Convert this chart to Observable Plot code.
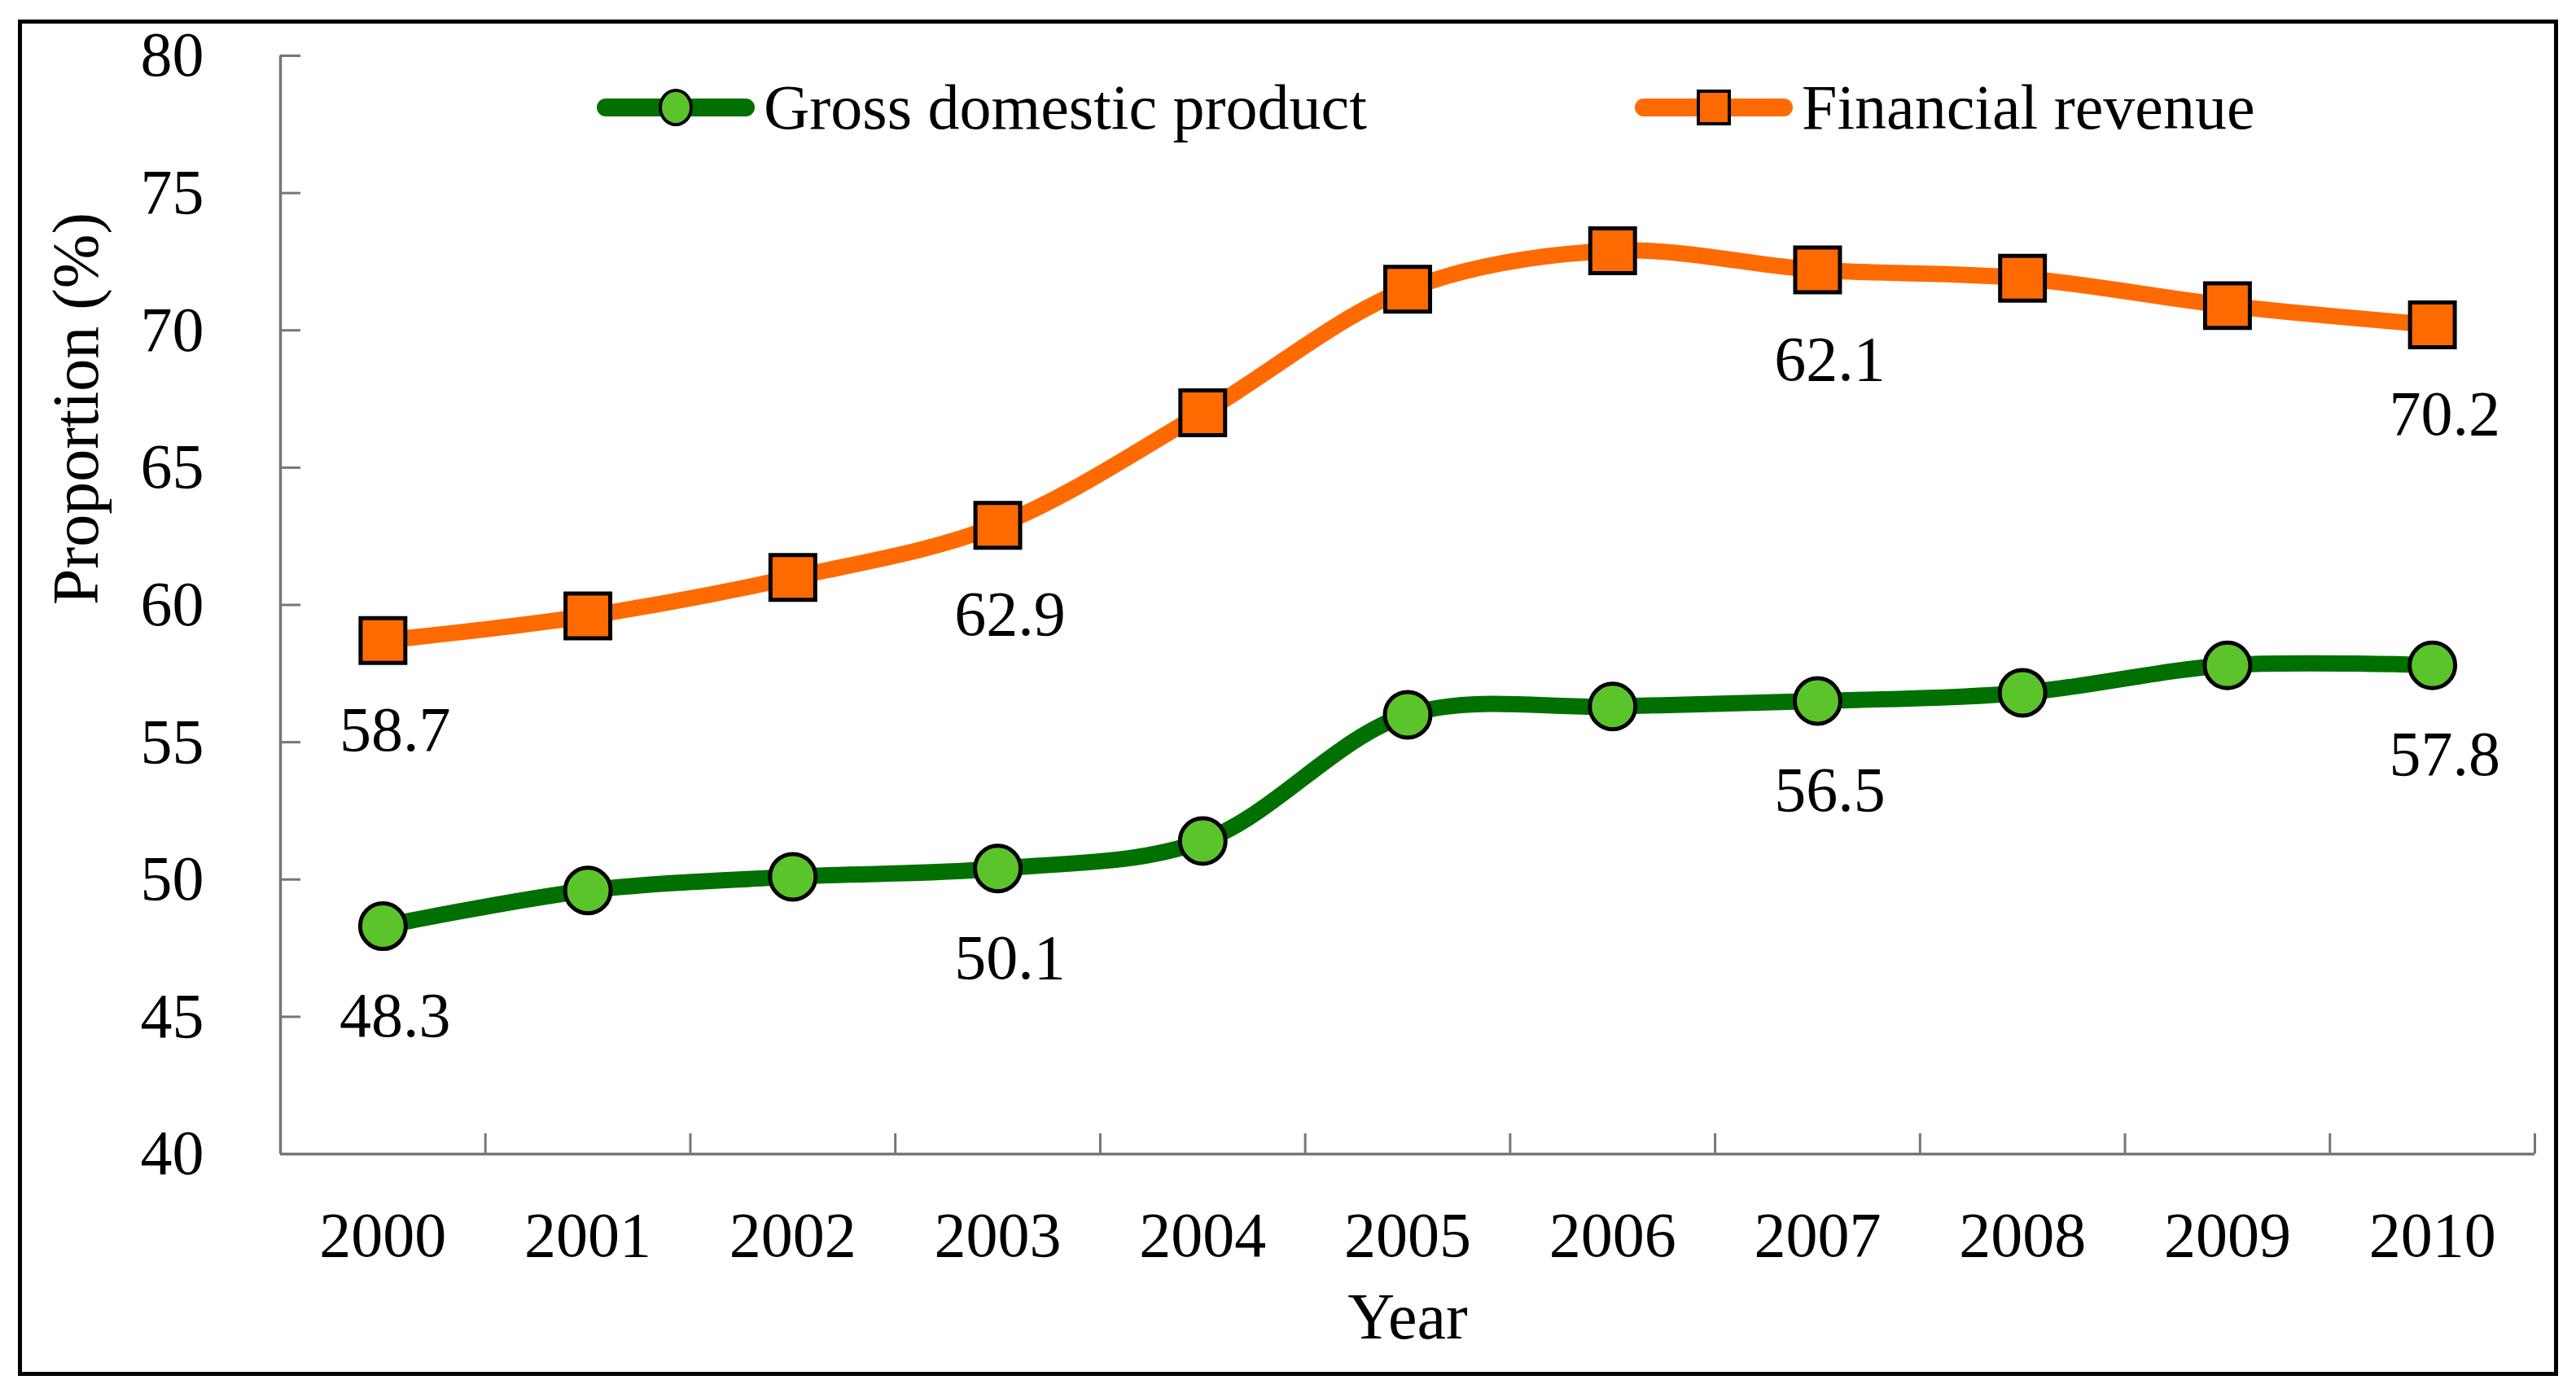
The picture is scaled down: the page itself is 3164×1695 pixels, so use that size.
<!DOCTYPE html>
<html>
<head>
<meta charset="utf-8">
<script src="https://cdn.jsdelivr.net/npm/d3@7"></script>
<script src="https://cdn.jsdelivr.net/npm/@observablehq/plot@0.6"></script>
<style>
  html, body { margin: 0; padding: 0; background: #fff; }
  #wrap { position: relative; width: 3164px; height: 1695px; font-family: "Liberation Serif", "Times New Roman", serif; }
  #frame { position: absolute; left: 22px; top: 24px; width: 3120px; height: 1666px; border: 5px solid #000; box-sizing: border-box; pointer-events: none; }
  #chart { position: absolute; left: 0; top: 0; }
  .leg { position: absolute; display: flex; align-items: center; height: 80px; font-size: 78px; color: #000; white-space: nowrap; }
  .leg svg { display: block; }
  .leg span { margin-left: 10px; line-height: 1; }
</style>
</head>
<body>
<div id="wrap">
  <div id="chart"></div>
  <div id="legend"></div>
  <div id="frame"></div>
</div>
<script>
// ---- data ----
const years = [2000, 2001, 2002, 2003, 2004, 2005, 2006, 2007, 2008, 2009, 2010];
const gdp = [48.3, 49.6, 50.1, 50.4, 51.4, 56.0, 56.3, 56.5, 56.8, 57.8, 57.8];
const revenue = [58.7, 59.6, 61.0, 62.9, 67.0, 71.5, 72.9, 72.2, 71.9, 70.9, 70.2];
const gdpLabelYears = [2000, 2003, 2007, 2010];
const gdpLabelTexts = ["48.3", "50.1", "56.5", "57.8"];
const revLabelYears = [2000, 2003, 2007, 2010];
const revLabelTexts = ["58.7", "62.9", "62.1", "70.2"];
const yTicks = [40, 45, 50, 55, 60, 65, 70, 75, 80];
const seriesNames = ["Gross domestic product", "Financial revenue"];

// ---- styles ----
const greenLine = "#007000", greenFill = "#5CC42B";
const orange = "#FF6A00";
const axisGray = "#767676";

const gdpData = years.map((y, i) => ({year: y, value: gdp[i]}));
const revData = years.map((y, i) => ({year: y, value: revenue[i]}));
const gdpLabels = gdpLabelYears.map((y, i) => ({year: y, value: gdp[years.indexOf(y)], text: gdpLabelTexts[i]}));
const revLabels = revLabelYears.map((y, i) => ({year: y, value: revenue[years.indexOf(y)], text: revLabelTexts[i]}));
const bounds = years.map(y => y - 0.5).concat([years[years.length - 1] + 0.5]);

const plot = Plot.plot({
  width: 3164,
  height: 1695,
  marginLeft: 344,
  marginRight: 51,
  marginTop: 68,
  marginBottom: 278,
  style: {fontFamily: "Liberation Serif, Times New Roman, serif", fontSize: "78px", background: "transparent", color: "#000", overflow: "visible"},
  x: {type: "linear", domain: [bounds[0], bounds[bounds.length - 1]]},
  y: {domain: [40, 80]},
  marks: [
    Plot.ruleY([40], {stroke: axisGray, strokeWidth: 3.5}),
    Plot.ruleX([bounds[0]], {stroke: axisGray, strokeWidth: 3.5}),
    Plot.axisY({ticks: yTicks, tickSize: 0, tickPadding: 94, tickFormat: d => String(d), label: null, fill: "#000", fontSize: 78}),
    Plot.axisY({ticks: yTicks, tickSize: -25, tickFormat: () => "", label: null, stroke: axisGray, strokeWidth: 3}),
    Plot.axisX({ticks: years, tickSize: 0, tickPadding: 70, tickFormat: d => String(d), label: null, fill: "#000", fontSize: 78}),
    Plot.axisX({ticks: bounds, tickSize: -25, tickFormat: () => "", label: null, stroke: axisGray, strokeWidth: 3}),
    Plot.text(["Year"], {frameAnchor: "bottom", dy: 226, fontSize: 80, fill: "#000"}),
    Plot.text(["Proportion (%)"], {frameAnchor: "left", rotate: -90, dx: -250, fontSize: 80, fill: "#000"}),
    Plot.line(revData, {x: "year", y: "value", stroke: orange, strokeWidth: 20, curve: "catmull-rom", strokeLinecap: "round", strokeLinejoin: "round"}),
    Plot.line(gdpData, {x: "year", y: "value", stroke: greenLine, strokeWidth: 20, curve: "catmull-rom", strokeLinecap: "round", strokeLinejoin: "round"}),
    Plot.dot(revData, {x: "year", y: "value", symbol: "square", r: 31, fill: orange, stroke: "#000", strokeWidth: 5}),
    Plot.dot(gdpData, {x: "year", y: "value", symbol: "circle", r: 28, fill: greenFill, stroke: "#000", strokeWidth: 5}),
    Plot.text(revLabels, {x: "year", y: "value", text: "text", dy: 110, dx: 15, fontSize: 78, fill: "#000"}),
    Plot.text(gdpLabels, {x: "year", y: "value", text: "text", dy: 110, dx: 15, fontSize: 78, fill: "#000"})
  ]
});
document.getElementById("chart").appendChild(plot);

// ---- legend (inside plot area, as in the reference) ----
function legendItem(name, left, top, lineColor, fill, symbol) {
  const div = document.createElement("div");
  div.className = "leg";
  div.style.left = left + "px";
  div.style.top = top + "px";
  const marker = symbol === "circle"
    ? `<ellipse cx="98" cy="40" rx="19" ry="21" fill="${fill}" stroke="#000" stroke-width="4"/>`
    : `<rect x="79" y="20" width="38" height="40" fill="${fill}" stroke="#000" stroke-width="4"/>`;
  div.innerHTML = `<svg width="196" height="80"><line x1="12" y1="40" x2="184" y2="40" stroke="${lineColor}" stroke-width="22" stroke-linecap="round"/>${marker}</svg><span>${name}</span>`;
  document.getElementById("legend").appendChild(div);
}
legendItem(seriesNames[0], 732, 92, greenLine, greenFill, "circle");
legendItem(seriesNames[1], 2007, 92, orange, orange, "square");
</script>
</body>
</html>
